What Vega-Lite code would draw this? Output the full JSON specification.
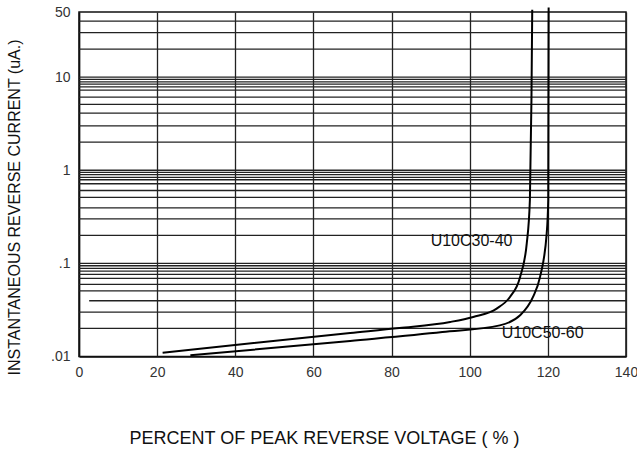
{
  "$schema": "https://vega.github.io/schema/vega-lite/v6.json",
  "width": 547,
  "height": 344.5,
  "autosize": "none",
  "padding": {"left": 79, "top": 12, "right": 11, "bottom": 95.5},
  "background": "white",
  "config": {
    "font": "Liberation Sans",
    "view": {"stroke": "#111", "strokeWidth": 1.5}
  },
  "datasets": {
    "grid": [
      {"y": 0.02, "x": 0, "x2": 140}, {"y": 0.03, "x": 0, "x2": 140}, {"y": 0.0397, "x": 2.6, "x2": 140},
      {"y": 0.0507, "x": 0, "x2": 140}, {"y": 0.0595, "x": 0, "x2": 140}, {"y": 0.069, "x": 0, "x2": 140},
      {"y": 0.0762, "x": 0, "x2": 140}, {"y": 0.0826, "x": 0, "x2": 140}, {"y": 0.0884, "x": 0, "x2": 140},
      {"y": 0.0943, "x": 0, "x2": 140}, {"y": 0.1, "x": 0, "x2": 140},
      {"y": 0.2, "x": 0, "x2": 140}, {"y": 0.3, "x": 0, "x2": 140}, {"y": 0.395, "x": 0, "x2": 140},
      {"y": 0.51, "x": 0, "x2": 140}, {"y": 0.606, "x": 0, "x2": 140}, {"y": 0.716, "x": 0, "x2": 140},
      {"y": 0.79, "x": 0, "x2": 140}, {"y": 0.837, "x": 0, "x2": 140}, {"y": 0.895, "x": 0, "x2": 140},
      {"y": 0.947, "x": 0, "x2": 140}, {"y": 1, "x": 0, "x2": 140},
      {"y": 2, "x": 0, "x2": 140}, {"y": 3, "x": 0, "x2": 140}, {"y": 4.1, "x": 0, "x2": 140},
      {"y": 5.1, "x": 0, "x2": 140}, {"y": 6.1, "x": 0, "x2": 140}, {"y": 7.25, "x": 0, "x2": 140},
      {"y": 7.86, "x": 0, "x2": 140}, {"y": 8.4, "x": 0, "x2": 140}, {"y": 8.9, "x": 0, "x2": 140},
      {"y": 9.43, "x": 0, "x2": 140}, {"y": 10, "x": 0, "x2": 140},
      {"y": 20, "x": 0, "x2": 140}, {"y": 30, "x": 0, "x2": 140}, {"y": 40, "x": 0, "x2": 140}
    ],
    "curves": [
      {"series": "U10C30-40", "x": 21.4, "y": 0.011},
      {"series": "U10C30-40", "x": 69.4, "y": 0.0179},
      {"series": "U10C30-40", "x": 82.0, "y": 0.0202},
      {"series": "U10C30-40", "x": 95.0, "y": 0.0235},
      {"series": "U10C30-40", "x": 100.9, "y": 0.0266},
      {"series": "U10C30-40", "x": 106.9, "y": 0.0327},
      {"series": "U10C30-40", "x": 110.3, "y": 0.0436},
      {"series": "U10C30-40", "x": 112.9, "y": 0.0716},
      {"series": "U10C30-40", "x": 114.6, "y": 0.164},
      {"series": "U10C30-40", "x": 115.4, "y": 0.478},
      {"series": "U10C30-40", "x": 115.8, "y": 5.7},
      {"series": "U10C30-40", "x": 116.0, "y": 53},
      {"series": "U10C50-60", "x": 28.5, "y": 0.0103},
      {"series": "U10C50-60", "x": 69.4, "y": 0.0147},
      {"series": "U10C50-60", "x": 93.0, "y": 0.0183},
      {"series": "U10C50-60", "x": 107.7, "y": 0.0216},
      {"series": "U10C50-60", "x": 112.9, "y": 0.0277},
      {"series": "U10C50-60", "x": 116.2, "y": 0.0436},
      {"series": "U10C50-60", "x": 118.0, "y": 0.0716},
      {"series": "U10C50-60", "x": 119.7, "y": 0.209},
      {"series": "U10C50-60", "x": 120.1, "y": 0.478},
      {"series": "U10C50-60", "x": 120.2, "y": 56}
    ],
    "labels": [
      {"label": "U10C30-40", "x": 90.0, "y": 0.1746},
      {"label": "U10C50-60", "x": 108.2, "y": 0.0179}
    ]
  },
  "encoding": {
    "x": {
      "field": "x", "type": "quantitative",
      "scale": {"domain": [0, 140], "nice": false, "zero": false},
      "axis": {
        "values": [0, 20, 40, 60, 80, 100, 120, 140],
        "grid": true, "gridColor": "#222", "gridWidth": 1.3, "gridOpacity": 1,
        "ticks": false, "domain": true, "domainColor": "#111", "domainWidth": 1.5,
        "labelFontSize": 14, "labelPadding": 9, "labelColor": "#333", "labelFlush": false,
        "title": "PERCENT OF PEAK REVERSE VOLTAGE ( % )",
        "titleFontSize": 18, "titleFontWeight": "normal", "titleColor": "#111",
        "titleX": 245, "titleY": 87, "titleBaseline": "alphabetic", "titleAlign": "center", "titleAnchor": null
      }
    },
    "y": {
      "field": "y", "type": "quantitative",
      "scale": {"type": "log", "domain": [0.01, 50], "nice": false},
      "axis": {
        "values": [0.01, 0.1, 1, 10, 50],
        "labelExpr": "datum.value < 0.05 ? '.01' : datum.value < 0.5 ? '.1' : datum.value < 5 ? '1' : datum.value < 20 ? '10' : '50'",
        "grid": false, "ticks": false, "domain": true, "domainColor": "#111", "domainWidth": 1.5,
        "labelFontSize": 14, "labelPadding": 9, "labelColor": "#333", "labelFlush": false,
        "title": "INSTANTANEOUS REVERSE CURRENT (uA.)",
        "titleFontSize": 16, "titleFontWeight": "normal", "titleColor": "#111",
        "titleX": -59.5, "titleY": 195, "titleBaseline": "alphabetic", "titleAlign": "center", "titleAnchor": null, "titleAngle": 270
      }
    }
  },
  "layer": [
    {
      "data": {"name": "grid"},
      "mark": {"type": "rule", "color": "#222", "strokeWidth": 1.3},
      "encoding": {"x2": {"field": "x2"}}
    },
    {
      "data": {"name": "curves"},
      "mark": {"type": "line", "color": "#000", "strokeWidth": 2, "interpolate": "monotone", "clip": false},
      "encoding": {"detail": {"field": "series"}}
    },
    {
      "data": {"name": "labels"},
      "mark": {"type": "text", "align": "left", "baseline": "middle", "fontSize": 16, "color": "#111"},
      "encoding": {"text": {"field": "label"}}
    }
  ]
}
